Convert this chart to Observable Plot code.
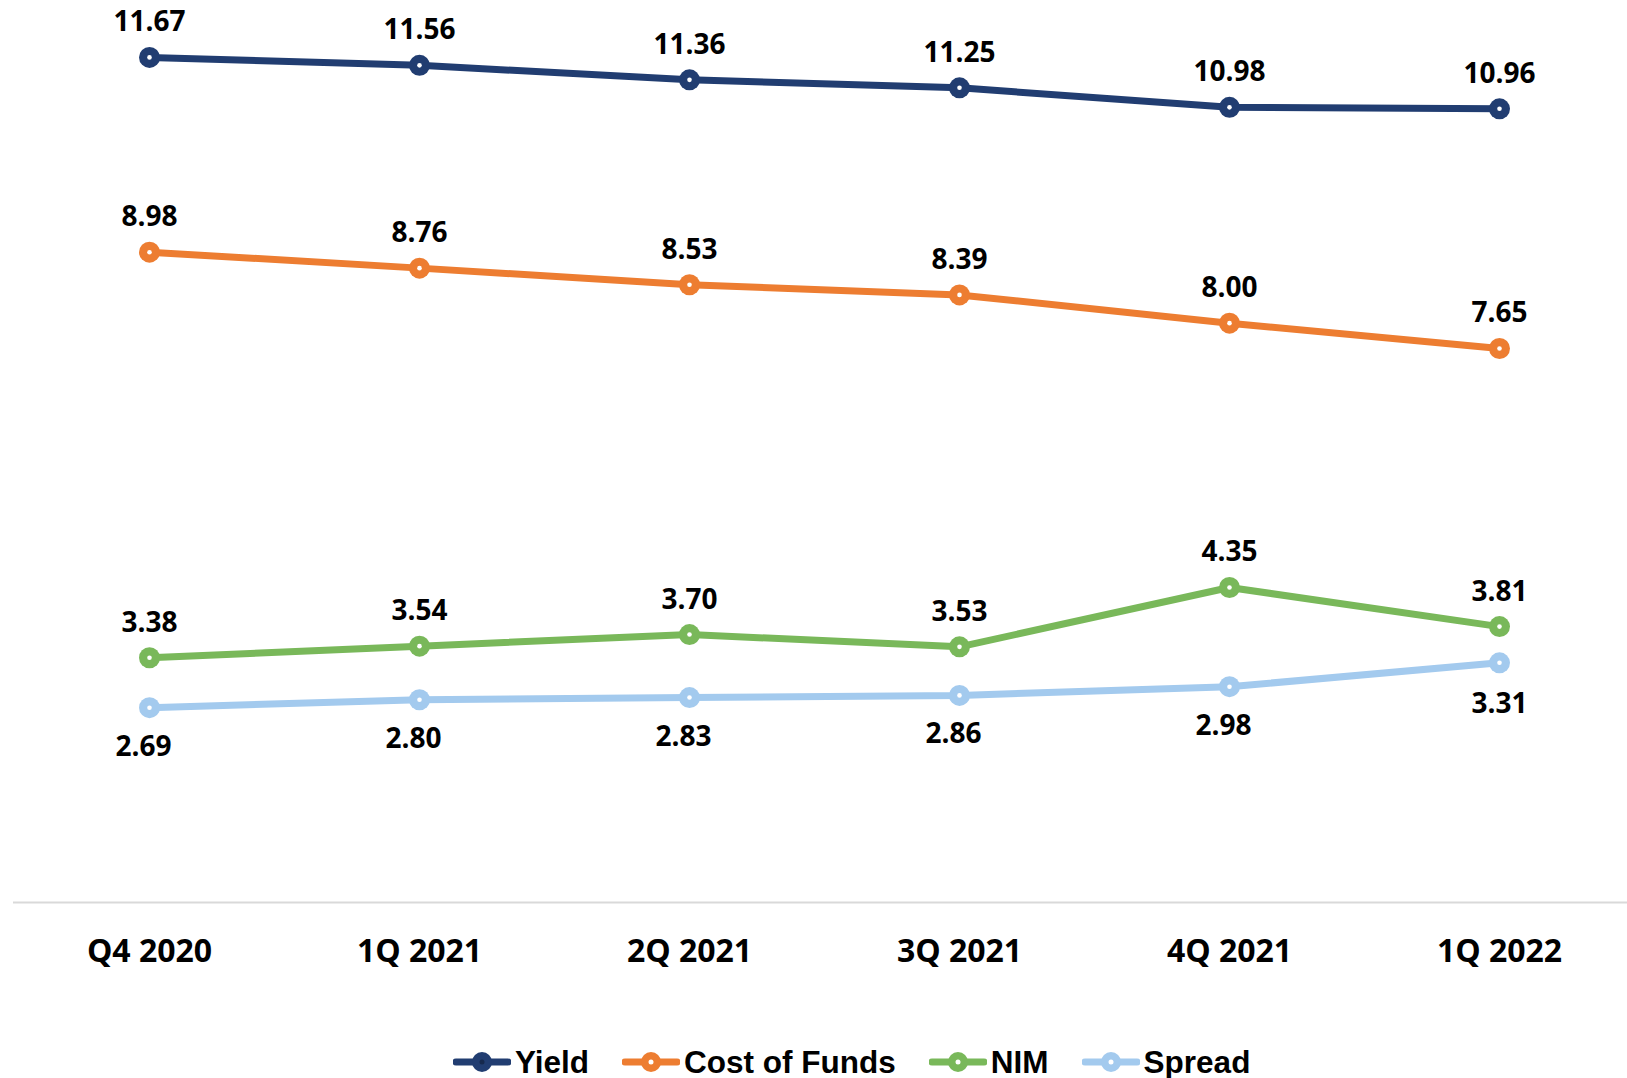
<!DOCTYPE html>
<html>
<head>
<meta charset="utf-8">
<script src="https://cdn.jsdelivr.net/npm/d3@7"></script>
<script src="https://cdn.jsdelivr.net/npm/@observablehq/plot@0.6"></script>
<style>
  html, body { margin: 0; padding: 0; background: #ffffff; }
  body { width: 1627px; height: 1078px; position: relative; overflow: hidden; }
  #chart svg { display: block; }
  #chart g[aria-label="x-axis tick label"] text { font-weight: 700; }
  #legend {
    position: absolute; left: 453px; top: 1044px; height: 36px;
    display: flex; align-items: center; gap: 33px;
    font-family: "Liberation Sans", Arial, sans-serif; font-weight: 700; font-size: 31.5px; color: #000;
  }
  .item { display: flex; align-items: center; gap: 4px; line-height: 36px; }
  .item svg { display: block; }
</style>
</head>
<body>
<div id="chart"></div>
<div id="legend"></div>
<script>
const quarters = ["Q4 2020", "1Q 2021", "2Q 2021", "3Q 2021", "4Q 2021", "1Q 2022"];
const yieldValues = [11.67, 11.56, 11.36, 11.25, 10.98, 10.96];
const costOfFundsValues = [8.98, 8.76, 8.53, 8.39, 8.00, 7.65];
const nimValues = [3.38, 3.54, 3.70, 3.53, 4.35, 3.81];
const spreadValues = [2.69, 2.80, 2.83, 2.86, 2.98, 3.31];
const seriesNames = ["Yield", "Cost of Funds", "NIM", "Spread"];
const seriesColors = ["#213D71", "#ED7D31", "#79B85A", "#A3CAEE"];

const seriesValues = [yieldValues, costOfFundsValues, nimValues, spreadValues];
const rows = seriesNames.flatMap((s, i) =>
  quarters.map((q, j) => ({series: s, quarter: q, value: seriesValues[i][j], idx: j}))
);
const fmt = d => d.value.toFixed(2);
const upper = rows.filter(d => d.series !== "Spread");
const spreadRows = rows.filter(d => d.series === "Spread");
const spreadMain = spreadRows.filter(d => d.idx < quarters.length - 1);
const spreadLast = spreadRows.filter(d => d.idx === quarters.length - 1);

const chart = Plot.plot({
  width: 1627,
  height: 1000,
  marginTop: 33,
  marginBottom: 98,
  marginLeft: 13,
  marginRight: -7,
  style: {fontFamily: "'Open Sans', sans-serif", background: "#ffffff", color: "#000", overflow: "visible"},
  x: {type: "point", domain: quarters, padding: 0.5, label: null},
  y: {domain: [0, 12], axis: null},
  color: {domain: seriesNames, range: seriesColors},
  marks: [
    Plot.ruleY([0], {stroke: "#d9d9d9", strokeWidth: 2}),
    Plot.axisX({tickSize: 0, tickPadding: 37, fontSize: 32, fontWeight: 700, label: null, fill: "#000"}),
    Plot.line(rows, {x: "quarter", y: "value", z: "series", stroke: "series", strokeWidth: 7, strokeLinejoin: "round"}),
    Plot.dot(rows, {x: "quarter", y: "value", fill: "series", r: 10.5, stroke: null}),
    Plot.dot(rows, {x: "quarter", y: "value", fill: "#ffffff", r: 2.3, stroke: null}),
    Plot.text(upper, {x: "quarter", y: "value", text: fmt, dy: -35, fontSize: 28, fontWeight: 700, fill: "#000"}),
    Plot.text(spreadMain, {x: "quarter", y: "value", text: fmt, dy: 39, dx: -6, fontSize: 28, fontWeight: 700, fill: "#000"}),
    Plot.text(spreadLast, {x: "quarter", y: "value", text: fmt, dy: 41, fontSize: 28, fontWeight: 700, fill: "#000"})
  ]
});
document.getElementById("chart").appendChild(chart);

const legend = document.getElementById("legend");
seriesNames.forEach((name, i) => {
  const c = seriesColors[i];
  const inner = i === 0 ? "#16294d" : "#ffffff";
  const item = document.createElement("div");
  item.className = "item";
  item.innerHTML = `<svg width="58" height="24" viewBox="0 0 58 24">
      <line x1="3" y1="12" x2="55" y2="12" stroke="${c}" stroke-width="7" stroke-linecap="round"/>
      <circle cx="29" cy="12" r="10" fill="${c}"/>
      <circle cx="29" cy="12" r="2.5" fill="${inner}"/>
    </svg><span>${name}</span>`;
  legend.appendChild(item);
});
</script>
</body>
</html>
